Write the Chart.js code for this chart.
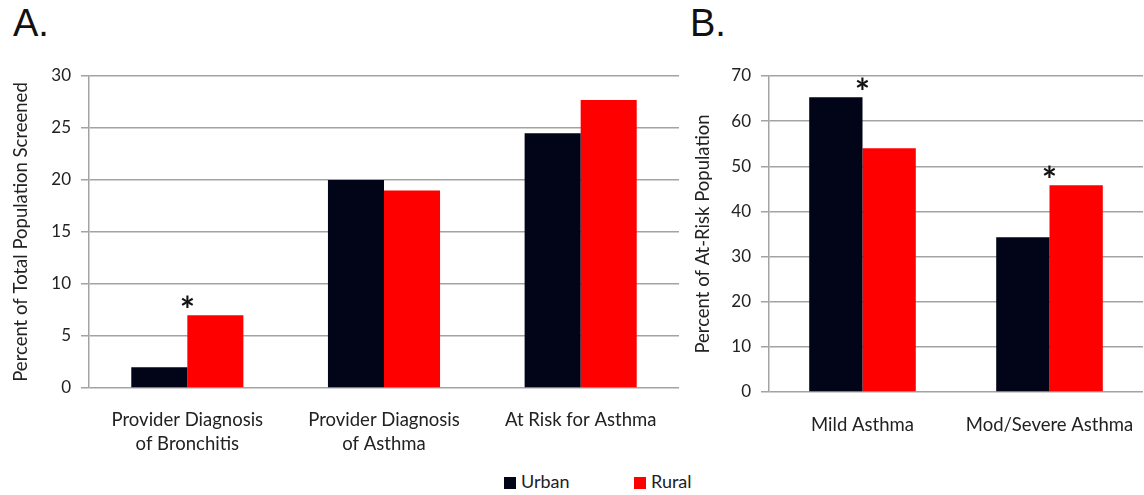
<!DOCTYPE html>
<html>
<head>
<meta charset="utf-8">
<script src="https://cdn.jsdelivr.net/npm/chart.js@4/dist/chart.umd.min.js"></script>
<style>
  body { margin:0; background:#fff; width:1144px; height:495px; position:relative; overflow:hidden; font-family:Lato, "Open Sans", sans-serif; }
  .wrap { position:absolute; top:50px; height:420px; }
  .panel { position:absolute; font-family:"Liberation Sans", Arial, sans-serif; font-size:38px; color:#111; top:2px; }
  .legend { position:absolute; top:470px; font-size:18px; color:#222; }
  .legend span.box { display:inline-block; width:12px; height:12px; margin-right:5px; vertical-align:-1px; }
</style>
</head>
<body>
<div class="panel" style="left:13px">A.</div>
<div class="panel" style="left:690px">B.</div>

<div class="wrap" style="left:0;width:690px"><canvas id="chartA" width="690" height="420"></canvas></div>
<div class="wrap" style="left:690px;width:454px"><canvas id="chartB" width="454" height="420"></canvas></div>

<div class="legend" style="left:504px"><span class="box" style="background:#020418"></span>Urban</div>
<div class="legend" style="left:634px"><span class="box" style="background:#ff0000"></span>Rural</div>

<script>
// panel A data
let categoriesA = [["Provider Diagnosis","of Bronchitis"],["Provider Diagnosis","of Asthma"],"At Risk for Asthma"];
let urbanA = [2, 20, 24.5];
let ruralA = [7, 19, 27.7];
let starsA = [true, false, false];
let ticksA = [0, 5, 10, 15, 20, 25, 30];

// panel B data
let categoriesB = ["Mild Asthma","Mod/Severe Asthma"];
let urbanB = [65.3, 34.3];
let ruralB = [54, 45.8];
let starsB = [true, true];
let ticksB = [0, 10, 20, 30, 40, 50, 60, 70];

let urbanColor = "#020418";
let ruralColor = "#ff0000";
let gridColor = "#a3a3a3";
let textColor = "#222";

/* draws the * over the categories that are significant */
let starPlugin = {
  id: "stars",
  afterDatasetsDraw(chart, args, opts) {
    let ctx = chart.ctx;
    let x = chart.scales.x, y = chart.scales.y;
    let u = chart.data.datasets[0].data, r = chart.data.datasets[1].data;
    ctx.save();
    ctx.fillStyle = "#111";
    ctx.font = "bold 36px Lato";
    ctx.textAlign = "center";
    ctx.textBaseline = "alphabetic";
    opts.flags.forEach(function(flag, i){
      if (!flag) return;
      let top = y.getPixelForValue(Math.max(u[i], r[i]));
      ctx.fillText("*", x.getPixelForValue(i), top + 8);
    });
    ctx.restore();
  }
};

function makeChart(id, labels, urban, rural, stars, ticks, yTitle, yWidth, xHeight, xPad, padLeft, padRight) {
  let max = ticks[ticks.length - 1];
  let step = ticks[1] - ticks[0];
  return new Chart(document.getElementById(id), {
    type: "bar",
    data: {
      labels: labels,
      datasets: [
        { label: "Urban", data: urban, backgroundColor: urbanColor },
        { label: "Rural", data: rural, backgroundColor: ruralColor }
      ]
    },
    options: {
      responsive: false,
      animation: false,
      categoryPercentage: 0.57,
      barPercentage: 1.0,
      layout: { padding: { top: 26, left: padLeft, right: padRight, bottom: 0 } },
      plugins: {
        legend: { display: false },
        tooltip: { enabled: false },
        stars: { flags: stars }
      },
      scales: {
        x: {
          grid: { display: false, drawTicks: false, tickLength: 0 },
          border: { display: false },
          ticks: { color: textColor, font: { family: "Lato", size: 18.5, lineHeight: 1.3 }, padding: xPad, maxRotation: 0, autoSkip: false },
          afterFit: function(s){
            s.height = xHeight;
            // labels may spill past the plot, don't let that shrink it
            s.paddingLeft = 0;
            s.paddingRight = 0;
          }
        },
        y: {
          min: 0, max: max,
          ticks: { stepSize: step, color: textColor, font: { family: "Lato", size: 17 }, padding: 10 },
          grid: { color: gridColor, lineWidth: 1.5, tickLength: 8 },
          border: { display: true, color: gridColor, width: 1.5 },
          title: { display: true, text: yTitle, color: textColor, font: { family: "Lato", size: 18.5 }, padding: 2 },
          afterFit: function(s){ s.width = yWidth; }
        }
      }
    },
    plugins: [starPlugin]
  });
}

makeChart("chartA", categoriesA, urbanA, ruralA, starsA, ticksA, "Percent of Total Population Screened", 81, 82, 20, 8, 11);
makeChart("chartB", categoriesB, urbanB, ruralB, starsB, ticksB, "Percent of At-Risk Population", 79, 78, 21, 0, 1);
</script>
</body>
</html>
